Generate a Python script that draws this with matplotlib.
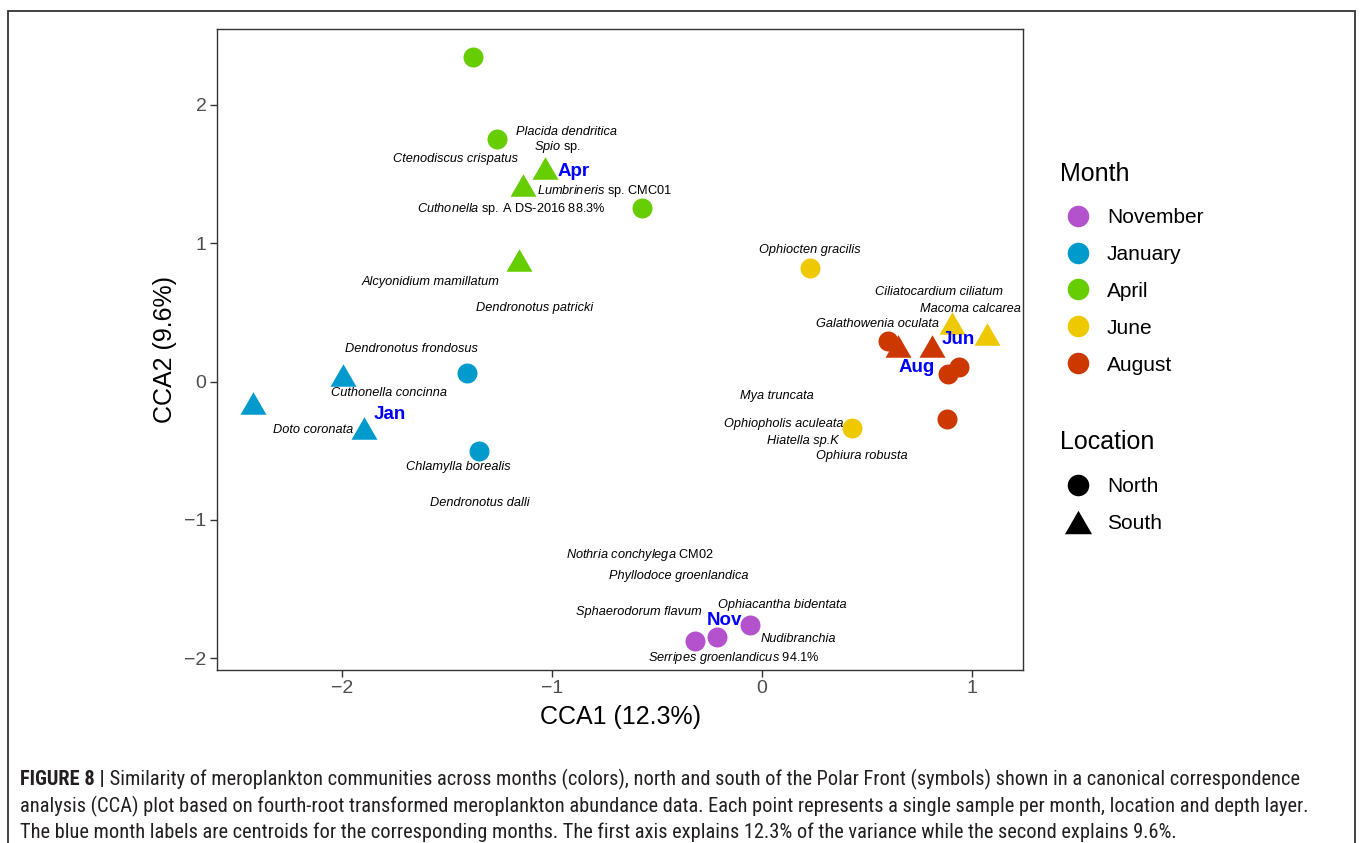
import numpy as np
import matplotlib
matplotlib.use("Agg")
import matplotlib.pyplot as plt
from matplotlib.lines import Line2D
from matplotlib.patches import Rectangle

plt.rcParams['font.family'] = ['Liberation Sans', 'DejaVu Sans']
plt.rcParams['mathtext.fontset'] = 'custom'
plt.rcParams['mathtext.rm'] = 'Liberation Sans'
plt.rcParams['mathtext.it'] = 'Liberation Sans:italic'
plt.rcParams['mathtext.bf'] = 'Liberation Sans:bold'

# ---- data ----
months = ["November", "January", "April", "June", "August"]
month_colors = ["#B452CD", "#009ACD", "#66CD00", "#EEC900", "#CD3700"]
locations = ["North", "South"]

smp_month = (["April"] * 6 + ["January"] * 5 + ["June"] * 4
             + ["August"] * 6 + ["November"] * 3)
smp_loc = ["North", "North", "North", "South", "South", "South",
           "South", "South", "South", "North", "North",
           "North", "North", "South", "South",
           "North", "North", "North", "North", "South", "South",
           "North", "North", "North"]
cca1 = [-1.376, -1.262, -0.571, -1.033, -1.138, -1.157,
        -2.424, -1.995, -1.895, -1.405, -1.348,
        0.229, 0.429, 0.905, 1.071,
        0.600, 0.938, 0.886, 0.881, 0.648, 0.810,
        -0.319, -0.214, -0.057]
cca2 = [2.346, 1.757, 1.258, 1.544, 1.421, 0.879,
        -0.155, 0.047, -0.336, 0.061, -0.503,
        0.821, -0.336, 0.423, 0.343,
        0.293, 0.105, 0.054, -0.271, 0.257, 0.257,
        -1.876, -1.848, -1.761]

centroid_lab = ["Nov", "Jan", "Apr", "Jun", "Aug"]
centroid_x = [-0.181, -1.771, -0.895, 0.933, 0.738]
centroid_y = [-1.725, -0.242, 1.522, 0.307, 0.098]

species = [r"Placida dendritica", r"$\mathit{Spio}$ sp.", r"Ctenodiscus crispatus",
           r"$\mathit{Lumbrineris}$ sp. CMC01", r"$\mathit{Cuthonella}$ sp. A DS-2016 88.3%",
           r"Alcyonidium mamillatum", r"Dendronotus patricki", r"Dendronotus frondosus",
           r"Cuthonella concinna", r"Doto coronata", r"Chlamylla borealis",
           r"Dendronotus dalli", r"$\mathit{Nothria\ conchylega}$ CM02",
           r"Phyllodoce groenlandica", r"Sphaerodorum flavum", r"Ophiacantha bidentata",
           r"Nudibranchia", r"$\mathit{Serripes\ groenlandicus}$ 94.1%",
           r"Ophiocten gracilis", r"Ciliatocardium ciliatum", r"Macoma calcarea",
           r"Galathowenia oculata", r"Mya truncata", r"Ophiopholis aculeata",
           r"Hiatella sp.K", r"Ophiura robusta"]
sp_x = [-0.933, -0.976, -1.457, -0.748, -1.195, -1.576, -1.081, -1.671, -1.776,
        -2.138, -1.448, -1.343, -0.581, -0.395, -0.586, 0.095, 0.171, -0.133,
        0.229, 0.843, 0.995, 0.548, 0.071, 0.105, 0.195, 0.476]
sp_y = [1.804, 1.695, 1.609, 1.378, 1.248, 0.719, 0.531, 0.235, -0.083,
        -0.351, -0.618, -0.879, -1.255, -1.406, -1.667, -1.616, -1.862, -2.000,
        0.951, 0.647, 0.524, 0.416, -0.105, -0.307, -0.430, -0.539]

caption_bold = "FIGURE 8 |"
caption_lines = [
    " Similarity of meroplankton communities across months (colors), north and south of the Polar Front (symbols) shown in a canonical correspondence",
    "analysis (CCA) plot based on fourth-root transformed meroplankton abundance data. Each point represents a single sample per month, location and depth layer.",
    "The blue month labels are centroids for the corresponding months. The first axis explains 12.3% of the variance while the second explains 9.6%.",
]

W, H = 1360, 843
fig = plt.figure(figsize=(W / 100, H / 100), dpi=100)
ax = fig.add_axes([217 / W, 1 - 670 / H, (1023 - 217) / W, (670 - 29) / H])

tri = [(-1, -0.866), (1, -0.866), (0, 0.866)]
loc_marker = {"North": "o", "South": tri}
loc_size = {"North": 207, "South": 350}
col = dict(zip(months, month_colors))

cca1 = np.array(cca1)
cca2 = np.array(cca2)
smp_month = np.array(smp_month)
smp_loc = np.array(smp_loc)
for loc in ["South", "North"]:
    for m in months:
        sel = (smp_month == m) & (smp_loc == loc)
        if sel.any():
            ax.scatter(cca1[sel], cca2[sel], s=loc_size[loc], c=col[m],
                       marker=loc_marker[loc], linewidths=0, zorder=3)

for lab, x, y in zip(species, sp_x, sp_y):
    style = 'normal' if '$' in lab else 'italic'
    ax.text(x, y, lab, fontsize=9.2, style=style, ha='center', va='center',
            color='black', zorder=4)

for lab, x, y in zip(centroid_lab, centroid_x, centroid_y):
    ax.text(x, y, lab, fontsize=13.5, weight='bold', color='#0000FF',
            ha='center', va='center', zorder=5)

ax.set_xlim(-2.595, 1.243)
ax.set_ylim(-2.086, 2.549)
ax.set_xticks([-2, -1, 0, 1])
ax.set_yticks([-2, -1, 0, 1, 2])
for s in ax.spines.values():
    s.set_color('#333333')
    s.set_linewidth(1.0)
ax.tick_params(direction='out', length=5, width=1.0, color='#333333',
               labelsize=14, labelcolor='#4D4D4D', pad=2.5)

ax.set_xlabel("CCA1 (12.3%)", fontsize=18)
ax.set_ylabel("CCA2 (9.6%)", fontsize=18)
ax.xaxis.set_label_coords(0.5, -(717 - 670) / 641)
ax.xaxis.label.set_verticalalignment('center')
ax.yaxis.set_label_coords((165 - 217) / 806, 0.5)
ax.yaxis.label.set_verticalalignment('center')
ax.yaxis.label.set_horizontalalignment('center')

# legends
month_handles = [Line2D([], [], ls='none', marker='o', ms=15.5, mfc=c, mec=c, mew=0)
                 for c in month_colors]
leg_kw = dict(loc='upper left', bbox_transform=fig.transFigure, frameon=False,
              fontsize=15, title_fontsize=18, alignment='left', borderpad=0,
              borderaxespad=0, handlelength=1.75, handletextpad=0.5,
              labelspacing=0.86)
leg1 = ax.legend(month_handles, months, title="Month",
                 bbox_to_anchor=(1060 / W, 1 - 162 / H), **leg_kw)
leg1._legend_box.sep = 15.8
ax.add_artist(leg1)
loc_handles = [Line2D([], [], ls='none', marker='o', ms=15.5, mfc='black', mec='black', mew=0),
               Line2D([], [], ls='none', marker=tri, ms=19.5, mfc='black', mec='black', mew=0)]
leg2 = ax.legend(loc_handles, locations, title="Location",
                 bbox_to_anchor=(1060 / W, 1 - 430 / H), **leg_kw)
leg2._legend_box.sep = 16.5

# outer frame of the figure panel
fig.add_artist(Rectangle((8 / W, -0.02), (1355 - 8) / W, (H - 11) / H + 0.02,
                         transform=fig.transFigure, fill=False, lw=1.3,
                         ec='#333333', clip_on=False))

# caption, sized so the first line spans the same width as the original
cap_fam = ['Liberation Sans Narrow', 'Roboto Condensed', 'DejaVu Sans Condensed', 'Liberation Sans']
fs = 13
base_y = [785, 812, 838]
tb = fig.text(20 / W, 1 - base_y[0] / H, caption_bold, fontsize=fs, weight='bold',
              family=cap_fam, color='#231F20', va='baseline')
t_lines = [fig.text(20 / W, 1 - by / H, line, fontsize=fs, family=cap_fam,
                    color='#231F20', va='baseline')
           for line, by in zip(caption_lines, base_y)]
fig.canvas.draw()
r = fig.canvas.get_renderer()
w_total = tb.get_window_extent(r).width + t_lines[0].get_window_extent(r).width
fs_new = fs * 1268 / w_total
tb.set_fontsize(fs_new)
for t in t_lines:
    t.set_fontsize(fs_new)
fig.canvas.draw()
wb = tb.get_window_extent(r).width
t_lines[0].set_x((20 + wb) / W)

fig.savefig("out.png", dpi=100)
